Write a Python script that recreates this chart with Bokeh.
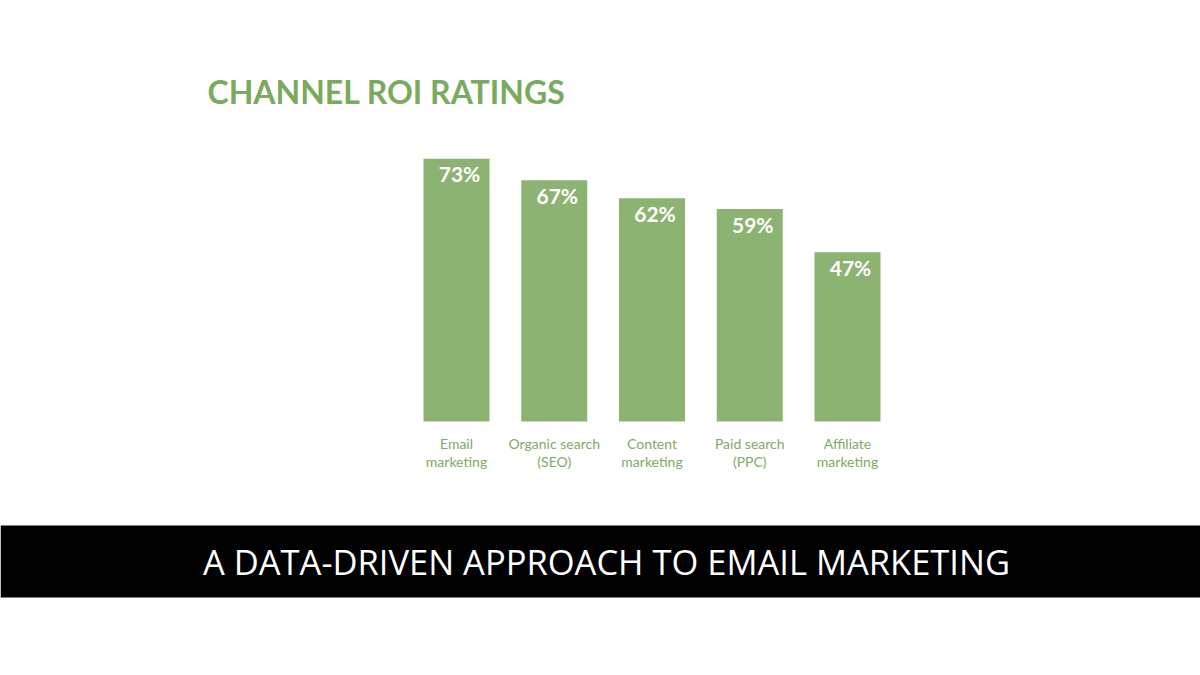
from bokeh.plotting import figure
from bokeh.models import BoxAnnotation, Range1d
from bokeh.core.properties import value
from bokeh.embed import file_html
from bokeh.resources import INLINE

# ---- data ----
categories = ["Email\nmarketing", "Organic search\n(SEO)", "Content\nmarketing",
              "Paid search\n(PPC)", "Affiliate\nmarketing"]
roi = [73, 67, 62, 59, 47]
title_text = "CHANNEL ROI RATINGS"
banner_text = "A DATA-DRIVEN APPROACH TO EMAIL MARKETING"

# ---- layout (page pixels -> data units) ----
W, H = 1200, 675
OFF = 0
X0, DX = 456.0, 97.75     # page x of first bar centre, spacing
Y0, DY = 421.0, 3.6       # page y of 0 %, px per %

def dx(px):
    return (px - X0) / DX

def dy(py):
    return (Y0 - py) / DY

p = figure(width=W, height=H, output_backend="svg", toolbar_location=None,
           x_range=Range1d(dx(OFF), dx(OFF + W)), y_range=Range1d(dy(OFF + H), dy(OFF)),
           min_border=0, outline_line_color=None)
p.axis.visible = False
p.grid.visible = False
p.background_fill_color = "white"
p.border_fill_color = "white"

xs = list(range(len(roi)))
BAR = "#8db372"
TXT = "#7dab62"

p.vbar(x=xs, top=roi, bottom=0, width=66 / DX, fill_color=BAR, line_color=None)

p.text(x=xs, y=roi, text=[f"{v}%" for v in roi], y_offset=15, x_offset=3,
       text_align="center", text_baseline="middle", text_color="white",
       text_font=value("Lato"), text_font_style="bold", text_font_size="21px")

line1 = [c.split("\n")[0] for c in categories]
line2 = [c.split("\n")[1] for c in categories]
p.text(x=xs, y=[0] * len(xs), text=line1, y_offset=22, text_align="center",
       text_baseline="middle", text_color=TXT, text_font=value("Lato"),
       text_font_size="14px")
p.text(x=xs, y=[0] * len(xs), text=line2, y_offset=40, text_align="center",
       text_baseline="middle", text_color=TXT, text_font=value("Lato"),
       text_font_size="14px")

# title
p.text(x=[dx(207)], y=[dy(91)], text=[title_text], text_align="left",
       text_baseline="middle", text_color="#79aa5d", text_font=value("Lato"),
       text_font_style="bold", text_font_size="32px")

# black banner
p.add_layout(BoxAnnotation(bottom=dy(597), top=dy(525), fill_color="black",
                           fill_alpha=1, line_color=None, level="underlay"))
p.text(x=[dx(606)], y=[dy(561)], text=[banner_text], text_align="center",
       text_baseline="middle", text_color="white", text_font=value("Open Sans"),
       text_font_size="34.5px")

open("out.html", "w").write(file_html(p, INLINE))
